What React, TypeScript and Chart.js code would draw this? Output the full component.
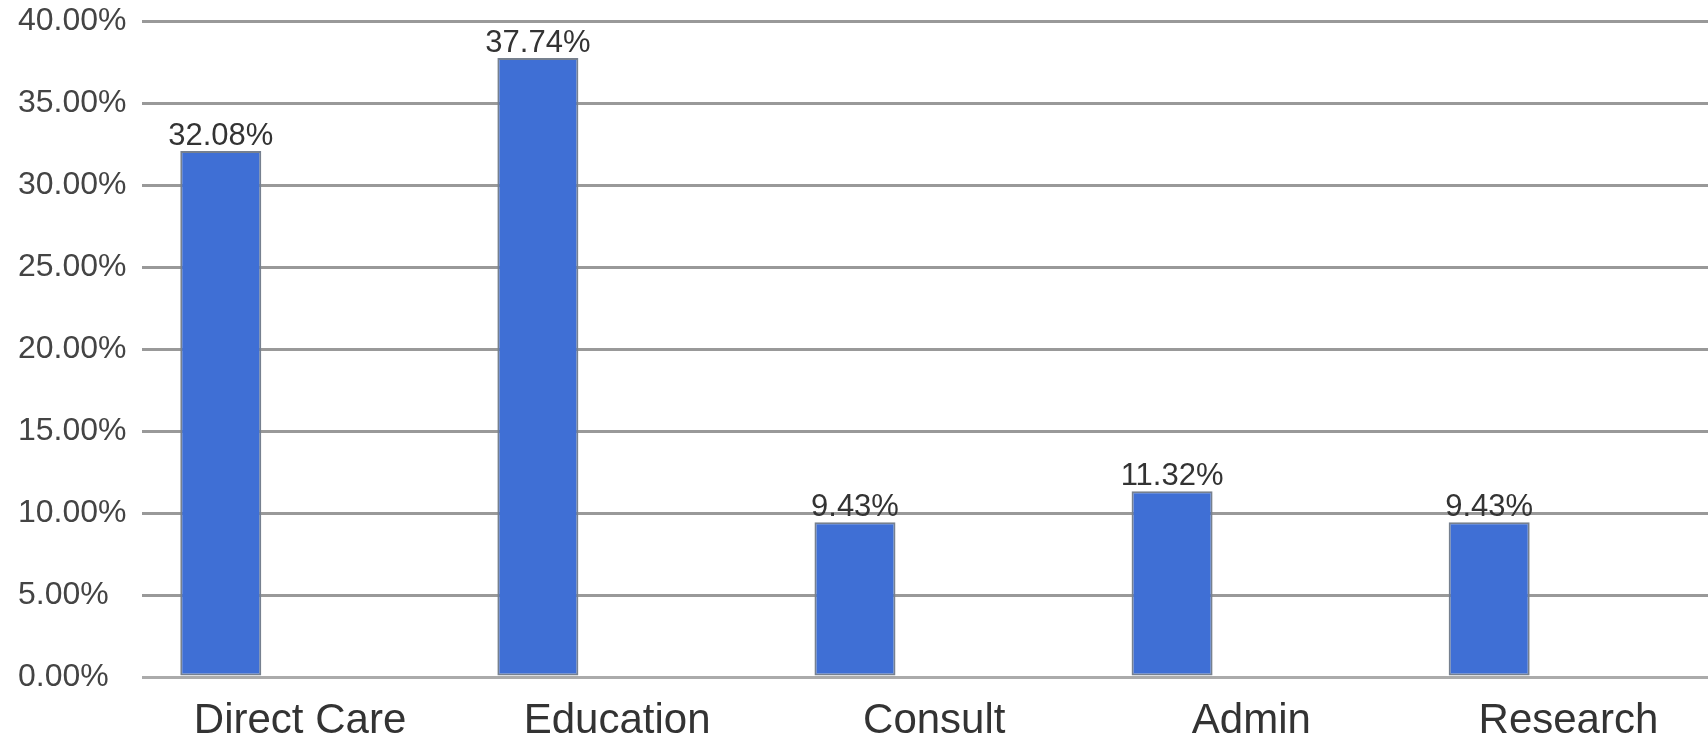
import React, { useEffect, useRef } from "react";
import { Chart, registerables } from "chart.js";

Chart.register(...registerables);

const categories: string[] = ["Direct Care", "Education", "Consult", "Admin", "Research"];
const shares: number[] = [32.08, 37.74, 9.43, 11.32, 9.43];
const spacer: (number | null)[] = [null, null, null, null, null];
const yMin = 0;
const yMax = 40;
const yStep = 5;

const FONT = "'Liberation Sans', Arial, sans-serif";

const valueLabels = {
  id: "valueLabels",
  afterDatasetsDraw(chart: any) {
    const meta = chart.getDatasetMeta(0);
    const ctx = chart.ctx;
    ctx.save();
    ctx.font = `31px ${FONT}`;
    ctx.fillStyle = "#333333";
    ctx.textAlign = "center";
    ctx.textBaseline = "alphabetic";
    meta.data.forEach((bar: any, i: number) => {
      const v = shares[i];
      ctx.fillText(v.toFixed(2) + "%", bar.x, bar.y - 6);
    });
    ctx.restore();
  },
};

export default function App() {
  const ref = useRef<HTMLCanvasElement | null>(null);
  useEffect(() => {
    if (!ref.current) return;
    const chart = new Chart(ref.current, {
      type: "bar",
      data: {
        labels: categories,
        datasets: [
          {
            data: shares,
            backgroundColor: "#3f6fd5",
            borderColor: "#76808f",
            borderWidth: 2,
            borderSkipped: false,
            categoryPercentage: 1,
            barPercentage: 0.511,
          },
          {
            data: spacer,
            backgroundColor: "rgba(0,0,0,0)",
            categoryPercentage: 1,
            barPercentage: 0.511,
          },
        ],
      },
      options: {
        animation: false,
        responsive: false,
        maintainAspectRatio: false,
        devicePixelRatio: 1,
        layout: { padding: { left: 18, top: 21, right: 0, bottom: 0 } },
        plugins: {
          legend: { display: false },
          tooltip: { enabled: false },
        },
        scales: {
          x: {
            grid: { display: false, drawTicks: false },
            border: { display: false },
            ticks: {
              font: { family: FONT, size: 42 },
              color: "#333333",
              padding: 19,
              maxRotation: 0,
              autoSkip: false,
            },
            afterFit(scale: any) {
              scale.height = 60;
            },
          },
          y: {
            min: yMin,
            max: yMax,
            grid: {
              color: (c: any) => (c.tick && c.tick.value === 0 ? "#ababab" : "#999999"),
              lineWidth: 3,
              drawTicks: false,
              tickLength: 0,
            },
            border: { display: false },
            ticks: {
              stepSize: yStep,
              font: { family: FONT, size: 32 },
              color: "#444444",
              crossAlign: "far",
              padding: 0,
              callback: (v: any) => Number(v).toFixed(2) + "%",
            },
            afterFit(scale: any) {
              scale.width = 123.5;
            },
          },
        },
      },
      plugins: [valueLabels],
    });
    return () => chart.destroy();
  }, []);

  return (
    <div
      style={{
        position: "fixed",
        left: 0,
        top: 0,
        width: 1708,
        height: 737,
        overflow: "hidden",
        background: "#ffffff",
      }}
    >
      <canvas ref={ref} width={1727} height={737} style={{ display: "block" }} />
    </div>
  );
}
